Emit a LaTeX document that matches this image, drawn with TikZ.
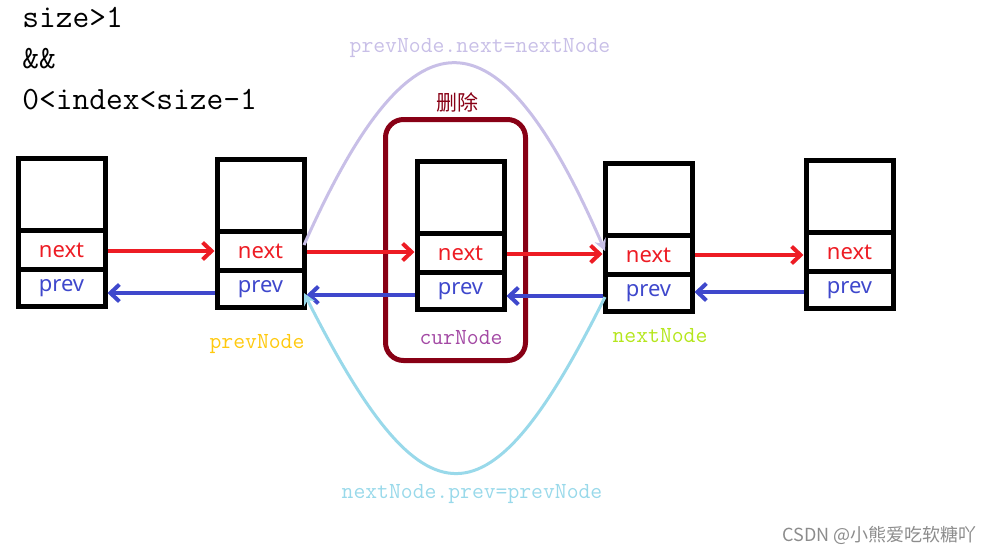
\documentclass[tikz,border=0pt]{standalone}
\usepackage{fontspec}
\usetikzlibrary{arrows.meta}
\newfontfamily\codefont{Latin Modern Mono}
\newfontfamily\fieldfont{Noto Sans}
\newfontfamily\cjkfont{Noto Sans CJK SC}
\definecolor{nextred}{HTML}{ED1C24}
\definecolor{prevblue}{HTML}{3F48CC}
\definecolor{linklav}{HTML}{C8BFE7}
\definecolor{linkcyan}{HTML}{99D9EA}
\definecolor{delred}{HTML}{880015}
\definecolor{prevgold}{HTML}{FFC90E}
\definecolor{curpurple}{HTML}{A349A4}
\definecolor{nextlime}{HTML}{B5E61D}
\definecolor{wmgray}{HTML}{8C8C8C}
\newcommand{\fieldsize}{\fontsize{22}{24}\selectfont}
\newcommand{\codesize}{\fontsize{23}{25}\selectfont}

\begin{document}
\begin{tikzpicture}[x=1pt,y=-1pt,line width=5pt,
  datacell/.style={draw,outer sep=0pt,inner sep=0pt,minimum width=87pt,minimum height=72pt,anchor=north},
  nextcell/.style={datacell,minimum height=39pt,text=nextred,font=\fieldfont\fieldsize},
  prevcell/.style={datacell,minimum height=37pt,text=prevblue,font=\fieldfont\fieldsize},
  nextlink/.style={-{Straight Barb[length=9pt,width=17pt]},line width=4pt,nextred,shorten <=2.5pt,shorten >=2.5pt},
  prevlink/.style={nextlink,prevblue},
  setlink/.style={-{Stealth[length=12pt,width=12pt]},line width=3pt},
  codelabel/.style={font=\codefont\codesize,inner sep=0pt},
  condtext/.style={font=\codefont\fontsize{32.5}{34}\selectfont,anchor=west,inner sep=0pt}]
\useasboundingbox (0,0) rectangle (1005,555);

\node[condtext] (cond1) at (20,17) {size>1};
\node[condtext] (cond2) at (20,59) {\&\&};
\node[condtext] (cond3) at (20,100) {0<index<size-1};

\node[draw=delred,rounded corners=18pt,minimum width=140pt,minimum height=241pt] (delete) at (455.5,240) {};
\node[font=\cjkfont\fontsize{21}{24}\selectfont,text=delred] (dellbl) at (457,102) {删除};

\node[datacell] (n1d) at (61.5,158.5) {};
\node[nextcell] (n1n) at (n1d.south) {next};
\node[prevcell] (n1p) at (n1n.south) {prev};

\node[datacell] (n2d) at (260.5,159.5) {};
\node[nextcell] (n2n) at (n2d.south) {next};
\node[prevcell] (n2p) at (n2n.south) {prev};

\node[datacell] (n3d) at (460.5,161.5) {};
\node[nextcell] (n3n) at (n3d.south) {next};
\node[prevcell] (n3p) at (n3n.south) {prev};

\node[datacell] (n4d) at (648.5,163.5) {};
\node[nextcell] (n4n) at (n4d.south) {next};
\node[prevcell] (n4p) at (n4n.south) {prev};

\node[datacell] (n5d) at (849.5,160.5) {};
\node[nextcell] (n5n) at (n5d.south) {next};
\node[prevcell] (n5p) at (n5n.south) {prev};

\draw[nextlink] ([yshift=-1pt]n1n.east) -- ([yshift=-1pt]n1n.east -| n2n.west);
\draw[nextlink] ([yshift=-1pt]n2n.east) -- ([yshift=-1pt]n2n.east -| n3n.west);
\draw[nextlink] ([yshift=-1pt]n3n.east) -- ([yshift=-1pt]n3n.east -| n4n.west);
\draw[nextlink] (n4n.east) -- (n4n.east -| n5n.west);

\draw[prevlink] ([yshift=-4pt]n2p.west) -- ([yshift=-4pt]n2p.west -| n1p.east);
\draw[prevlink] ([yshift=-4pt]n3p.west) -- ([yshift=-4pt]n3p.west -| n2p.east);
\draw[prevlink] ([yshift=-3pt]n4p.west) -- ([yshift=-3pt]n4p.west -| n3p.east);
\draw[prevlink] ([yshift=-2pt]n5p.west) -- ([yshift=-2pt]n5p.west -| n4p.east);

\draw[setlink,linklav] ([yshift=6pt]n2n.east) .. controls (412,2) and (497,2) .. ([yshift=4pt]n4n.west);
\draw[setlink,linkcyan] ([yshift=-4pt]n4p.west) .. controls (488,532) and (425,532) .. ([yshift=-4pt]n2p.east);

\node[codelabel,text=prevgold] (prevlbl) at (257,344) {prevNode};
\node[codelabel,text=curpurple] (curlbl) at (461,338) {curNode};
\node[codelabel,text=nextlime] (nextlbl) at (660,336) {nextNode};
\node[codelabel,text=linklav] (setnext) at (480,48) {prevNode.next=nextNode};
\node[codelabel,text=linkcyan] (setprev) at (472,494) {nextNode.prev=prevNode};

\node[font=\cjkfont\fontsize{18}{20}\selectfont,text=wmgray,anchor=west,inner sep=0pt] (wm) at (780,535) {CSDN @小熊爱吃软糖吖};
\end{tikzpicture}
\end{document}
